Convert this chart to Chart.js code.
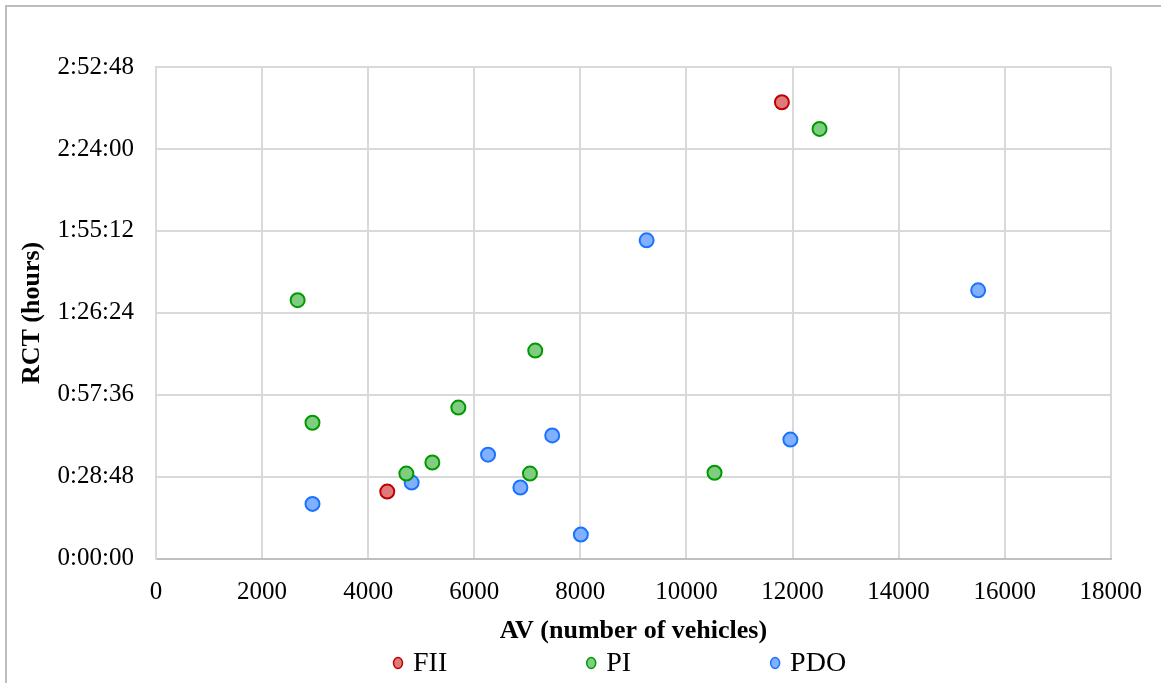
<!DOCTYPE html>
<html>
<head>
<meta charset="utf-8">
<script src="https://cdn.jsdelivr.net/npm/chart.js@4"></script>
<style>
  html, body { margin: 0; padding: 0; background: #fff; overflow: hidden; }
  #wrap { position: absolute; left: 0; top: 0; width: 1161px; height: 683px; }
  #frame { position: absolute; left: 5px; top: 5px; width: 1160px; height: 690px; border-left: 2px solid #bdbdbd; border-top: 2px solid #bdbdbd; pointer-events: none; }
  canvas { display: block; }
</style>
</head>
<body>
<div id="wrap"><canvas id="c"></canvas></div>
<div id="frame"></div>
<script>
// RCT values are in days (Excel time format); AV in number of vehicles
const fiiAV  = [11800, 4360];
const fiiRCT = [0.1114, 0.0164];
const piAV   = [12510, 2670, 7150, 5700, 2950, 5210, 4720, 7050, 10530];
const piRCT  = [0.1049, 0.0631, 0.0508, 0.0369, 0.0332, 0.0235, 0.0208, 0.0208, 0.0210];
const pdoAV  = [9250, 15500, 7470, 11960, 6260, 4820, 6870, 2950, 8010];
const pdoRCT = [0.0777, 0.0655, 0.0301, 0.0291, 0.0254, 0.0186, 0.0174, 0.0134, 0.0059];
const seriesNames = ['FII', 'PI', 'PDO'];
const xTitle = 'AV (number of vehicles)';
const yTitle = 'RCT (hours)';

function pts(xs, ys) { return xs.map((x, i) => ({ x: x, y: ys[i] })); }
function fmtTime(v) {
  let s = Math.round(v * 86400);
  const h = Math.floor(s / 3600); s -= h * 3600;
  const m = Math.floor(s / 60); s -= m * 60;
  return h + ':' + String(m).padStart(2, '0') + ':' + String(s).padStart(2, '0');
}
const font = 'Liberation Serif';

const bottomLegend = {
  id: 'bottomLegend',
  afterDraw(chart) {
    const ctx = chart.ctx;
    const ds = chart.data.datasets;
    ctx.save();
    ctx.font = '28px "' + font + '"';
    ctx.textBaseline = 'middle';
    const textGap = 15, itemGap = 144;
    let x = 398;
    const y = 663;
    ds.forEach((d) => {
      ctx.beginPath();
      ctx.ellipse(x, y, 4.5, 5.5, 0, 0, Math.PI * 2);
      ctx.fillStyle = d.backgroundColor;
      ctx.fill();
      ctx.lineWidth = 1.5;
      ctx.strokeStyle = d.borderColor;
      ctx.stroke();
      ctx.fillStyle = '#000';
      ctx.textAlign = 'left';
      ctx.fillText(d.label, x + textGap, y + 1);
      x += textGap + ctx.measureText(d.label).width + itemGap;
    });
    ctx.restore();
  }
};

new Chart(document.getElementById('c'), {
  type: 'scatter',
  data: {
    datasets: [
      { label: seriesNames[0], data: pts(fiiAV, fiiRCT), backgroundColor: 'rgba(222,122,122,1)', borderColor: '#c00000', borderWidth: 2, pointRadius: 7, pointHoverRadius: 7 },
      { label: seriesNames[1], data: pts(piAV, piRCT), backgroundColor: 'rgba(128,204,128,1)', borderColor: '#009a00', borderWidth: 2, pointRadius: 7, pointHoverRadius: 7 },
      { label: seriesNames[2], data: pts(pdoAV, pdoRCT), backgroundColor: 'rgba(128,176,255,1)', borderColor: '#1a73ff', borderWidth: 2, pointRadius: 7, pointHoverRadius: 7 }
    ]
  },
  plugins: [bottomLegend],
  options: {
    responsive: true,
    maintainAspectRatio: false,
    animation: false,
    layout: { padding: { left: 17, right: 44, top: 67, bottom: 36 } },
    plugins: {
      tooltip: { enabled: false },
      legend: { display: false }
    },
    scales: {
      x: {
        type: 'linear', min: 0, max: 18000,
        ticks: { stepSize: 2000, color: '#000', font: { family: font, size: 25 }, padding: 19, callback: v => String(v) },
        grid: { color: '#d9d9d9', lineWidth: 2, drawTicks: false },
        border: { color: '#bfbfbf', width: 2 },
        title: { display: true, text: xTitle, color: '#000', font: { family: font, size: 26, weight: 'bold' }, padding: { top: -11, bottom: 0 } }
      },
      y: {
        type: 'linear', min: 0, max: 0.12,
        afterFit: s => { s.width = 139; },
        ticks: { stepSize: 0.02, color: '#000', font: { family: font, size: 25 }, padding: 22, callback: v => fmtTime(v) },
        grid: { color: '#d9d9d9', lineWidth: 2, drawTicks: false },
        border: { color: '#d9d9d9', width: 2 },
        title: { display: true, text: yTitle, color: '#000', font: { family: font, size: 26, weight: 'bold' }, padding: { top: 0, bottom: 0 } }
      }
    }
  }
});
</script>
</body>
</html>
